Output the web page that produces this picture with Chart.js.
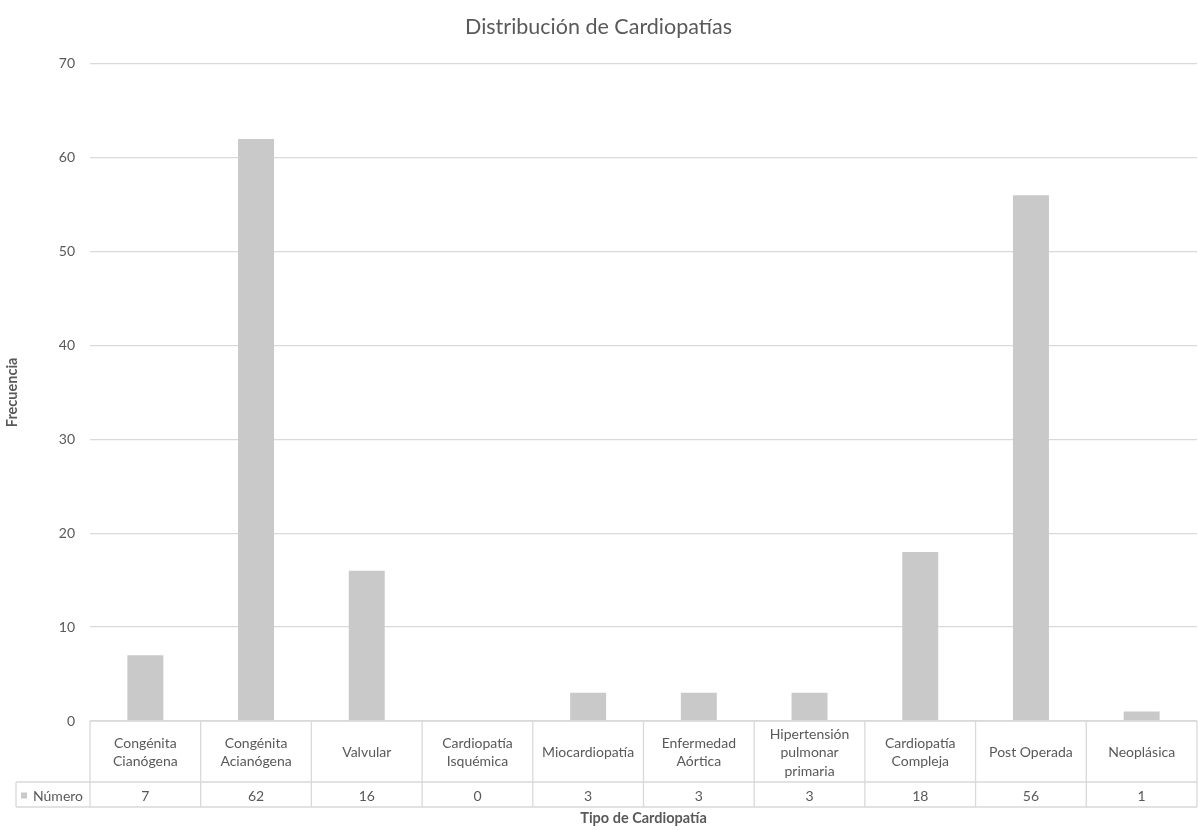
<!DOCTYPE html>
<html lang="es">
  <head>
    <meta charset="UTF-8" />
    <title>Distribución de Cardiopatías</title>
    <script src="https://cdn.jsdelivr.net/npm/chart.js"></script>
    <style>
      html, body { margin: 0; padding: 0; background: #ffffff; }
      #wrap { width: 1198px; height: 830px; }
    </style>
  </head>
  <body>
    <div id="wrap"><canvas id="cardioChart"></canvas></div>

    <script>
      // data
      const categories = [
        ["Congénita", "Cianógena"],
        ["Congénita", "Acianógena"],
        ["Valvular"],
        ["Cardiopatía", "Isquémica"],
        ["Miocardiopatía"],
        ["Enfermedad", "Aórtica"],
        ["Hipertensión", "pulmonar", "primaria"],
        ["Cardiopatía", "Compleja"],
        ["Post Operada"],
        ["Neoplásica"],
      ];
      const numero = [7, 62, 16, 0, 3, 3, 3, 18, 56, 1];
      const seriesName = "Número";
      const yTicks = [0, 10, 20, 30, 40, 50, 60, 70];

      const FONT = "Lato, 'Open Sans', sans-serif";
      const textColor = "#595959";
      const lineColor = "#d9d9d9";
      const barColor = "#c9c9c9";

      // draws the data table under the plot, placed from the x scale
      const dataTable = {
        id: "dataTable",
        afterDraw(chart) {
          const ctx = chart.ctx;
          const x = chart.scales.x;
          const top = chart.chartArea.bottom;
          const labelRow = 61;
          const valueRow = 25;
          const left = 16;
          const right = x.right;
          const mid = top + labelRow;
          const bottom = mid + valueRow;

          ctx.save();
          ctx.strokeStyle = lineColor;
          ctx.lineWidth = 1.3;
          ctx.beginPath();
          // horizontal lines
          ctx.moveTo(x.left, top); ctx.lineTo(right, top);
          ctx.moveTo(left, mid); ctx.lineTo(right, mid);
          ctx.moveTo(left, bottom); ctx.lineTo(right, bottom);
          // vertical lines at category boundaries
          const n = chart.data.labels.length;
          const step = x.getPixelForValue(1) - x.getPixelForValue(0);
          for (let i = 0; i <= n; i++) {
            const px = i === n ? right : x.getPixelForValue(i) - step / 2;
            ctx.moveTo(px, top); ctx.lineTo(px, bottom);
          }
          ctx.moveTo(left, mid); ctx.lineTo(left, bottom);
          ctx.stroke();

          ctx.fillStyle = textColor;
          ctx.textAlign = "center";
          ctx.textBaseline = "middle";
          ctx.font = "14px " + FONT;
          const lh = 18.5;
          chart.data.labels.forEach((lab, i) => {
            const cx = x.getPixelForValue(i);
            const y0 = top + labelRow / 2 + 1 - ((lab.length - 1) * lh) / 2;
            lab.forEach((line, j) => ctx.fillText(line, cx, y0 + j * lh));
            ctx.fillText(String(chart.data.datasets[0].data[i]), cx, mid + valueRow / 2 + 2);
          });

          // legend key + series name
          ctx.fillStyle = barColor;
          ctx.fillRect(21, mid + valueRow / 2 - 2, 6, 6);
          ctx.fillStyle = textColor;
          ctx.textAlign = "left";
          ctx.fillText(seriesName, 33, mid + valueRow / 2 + 2);

          // axis title
          ctx.font = "bold 14.5px " + FONT;
          ctx.textAlign = "center";
          ctx.fillText("Tipo de Cardiopatía", (x.left + x.right) / 2, bottom + 11);
          ctx.restore();
        },
      };

      new Chart(document.getElementById("cardioChart"), {
        type: "bar",
        data: {
          labels: categories,
          datasets: [
            {
              label: seriesName,
              data: numero,
              backgroundColor: barColor,
              categoryPercentage: 1,
              barPercentage: 0.325,
            },
          ],
        },
        options: {
          responsive: true,
          maintainAspectRatio: false,
          animation: false,
          layout: { padding: { top: 0, right: 1, bottom: 109, left: 0 } },
          plugins: {
            legend: { display: false },
            tooltip: { enabled: false },
            title: {
              display: true,
              text: "Distribución de Cardiopatías",
              color: textColor,
              font: { family: FONT, size: 21.5, weight: "normal" },
              padding: { top: 14, bottom: 24 },
            },
          },
          scales: {
            x: {
              grid: { display: false, drawTicks: false },
              border: { display: false },
              ticks: { display: false },
            },
            y: {
              min: 0,
              max: 70,
              afterBuildTicks(scale) {
                scale.ticks = yTicks.map((v) => ({ value: v }));
              },
              afterFit(scale) {
                scale.width = 90;
              },
              grid: { color: lineColor, lineWidth: 1.3, drawTicks: false },
              border: { display: false },
              ticks: {
                color: textColor,
                padding: 15,
                font: { family: FONT, size: 14 },
              },
              title: {
                display: true,
                text: "Frecuencia",
                color: textColor,
                font: { family: FONT, size: 14.5, weight: "bold" },
                padding: { top: 4, bottom: 0 },
              },
            },
          },
        },
        plugins: [dataTable],
      });
    </script>
  </body>
</html>
